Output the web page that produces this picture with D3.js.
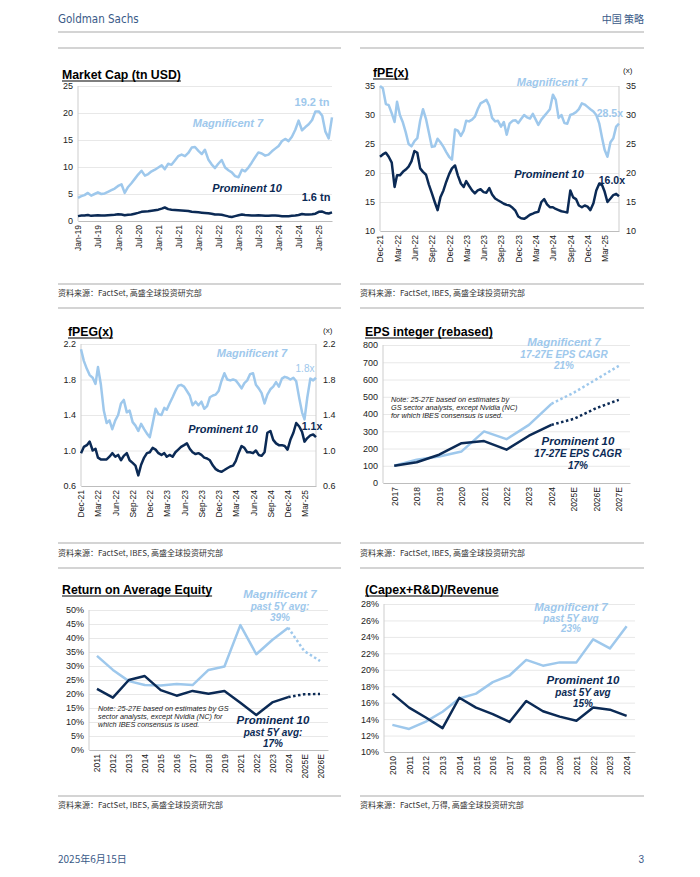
<!DOCTYPE html>
<meta charset="utf-8">
<title>Magnificent 7 vs Prominent 10</title>
<body>
<script src="https://cdn.jsdelivr.net/npm/d3@7"></script>
<style>
html, body {
    margin: 0;
    background: #fff;
}
svg {
    display: block;
    font-family: Arial, "Liberation Sans", sans-serif;
}
.cn {
    font-family: "Noto Sans CJK SC", sans-serif;
}
</style>
<script>
// ---- data ----
// market cap, tn USD, monthly Jan-19 .. May-25
var capMag7 = [4.3, 4.6, 4.8, 5.2, 4.7, 5.0, 5.3, 5.0, 5.1, 5.4, 5.7, 6.0,
    6.5, 6.8, 5.2, 6.3, 7.0, 7.8, 8.6, 9.3, 8.4, 8.7, 9.2, 9.5,
    9.9, 10.3, 9.6, 10.6, 10.4, 11.2, 12.0, 12.3, 12.0, 12.6, 13.6, 13.7,
    13.0, 12.4, 13.2, 11.4, 10.5, 9.8, 10.6, 11.3, 9.9, 9.4, 9.0, 8.3,
    8.1, 9.5, 9.2, 9.9, 10.8, 11.8, 12.7, 12.5, 12.1, 12.3, 12.9, 13.4,
    13.9, 14.8, 15.2, 14.8, 15.6, 16.9, 18.6, 16.8, 17.4, 17.9, 18.7, 20.3,
    20.3, 19.5, 16.6, 15.3, 19.2];
var capProm10 = [0.9, 1.0, 1.0, 1.1, 0.95, 1.0, 1.05, 1.0, 1.0, 1.05, 1.1, 1.15,
    1.25, 1.2, 1.05, 1.15, 1.2, 1.35, 1.5, 1.7, 1.75, 1.8, 1.9, 2.0,
    2.1, 2.3, 2.5, 2.2, 2.1, 2.05, 2.0, 1.95, 1.9, 1.85, 1.7, 1.65,
    1.6, 1.55, 1.5, 1.45, 1.35, 1.2, 1.2, 1.15, 1.0, 0.85, 0.75, 0.9,
    1.05, 1.2, 1.1, 1.05, 1.0, 1.0, 1.05, 1.0, 0.95, 0.95, 1.0, 1.0,
    0.95, 0.9, 0.9, 0.9, 0.95, 1.0, 1.1, 1.3, 1.2, 1.2, 1.25, 1.35,
    1.7, 1.75, 1.5, 1.4, 1.6];
var capTicks = ["Jan-19", "Jul-19", "Jan-20", "Jul-20", "Jan-21", "Jul-21", "Jan-22",
    "Jul-22", "Jan-23", "Jul-23", "Jan-24", "Jul-24", "Jan-25"];

// forward P/E, semi-monthly from 1 Dec 2021
var peMag7 = [35.0, 34.6, 31.9, 31.7, 30.3, 28.8, 32.3, 30.0, 28.7, 27.0,
    25.0, 24.6, 25.5, 26.0, 29.0, 31.0, 29.3, 27.0, 24.5, 24.6,
    25.9, 25.3, 24.5, 23.6, 22.8, 22.3, 27.5, 27.3, 26.4, 27.3,
    29.0, 28.9, 29.2, 29.7, 31.0, 32.0, 32.3, 32.6, 31.6, 29.5,
    28.9, 29.0, 28.0, 28.8, 26.6, 28.5, 29.0, 29.1, 28.6, 29.3,
    30.0, 29.6, 29.4, 30.2, 29.3, 28.3, 29.2, 29.8, 30.4, 31.0,
    33.5, 32.6, 29.5, 30.0, 28.6, 28.5, 30.0, 30.2, 30.5, 31.0,
    32.0, 31.8, 31.4, 31.0, 30.6, 30.0, 28.5, 26.0, 24.0, 22.8,
    25.3, 26.0, 28.0, 28.5];
var peProm10 = [22.8, 23.2, 23.5, 22.8, 21.8, 17.6, 19.6, 19.6, 20.2, 20.6,
    21.1, 22.0, 23.8, 23.5, 20.8, 20.2, 19.7, 18.0, 16.5, 15.0,
    13.6, 15.8, 17.0, 18.5, 19.8, 20.8, 21.3, 19.6, 18.2, 17.6,
    18.6, 17.8, 17.0, 16.5, 17.0, 17.2, 16.7, 16.6, 17.4, 16.3,
    15.6, 15.3, 15.0, 14.7, 14.5, 14.4, 14.0, 13.5, 12.5, 12.2,
    12.1, 12.4, 12.8, 13.0, 13.2, 13.3, 15.0, 15.5, 14.6, 14.1,
    14.1, 13.8, 13.6, 13.4, 13.3, 13.2, 17.0, 15.8, 15.5, 14.4,
    14.1, 14.4, 14.2, 13.6, 14.8, 17.0, 18.2, 17.9, 16.8, 15.0,
    15.6, 16.2, 16.4, 16.0];

// forward PEG, semi-monthly from 1 Dec 2021
var pegMag7 = [2.14, 2.01, 1.92, 1.85, 1.82, 1.75, 1.94, 1.75, 1.45, 1.31,
    1.34, 1.24, 1.34, 1.40, 1.53, 1.57, 1.43, 1.45, 1.32, 1.28,
    1.22, 1.30, 1.24, 1.19, 1.15, 1.30, 1.47, 1.41, 1.40, 1.48,
    1.46, 1.53, 1.60, 1.67, 1.73, 1.74, 1.72, 1.67, 1.62, 1.51,
    1.55, 1.51, 1.55, 1.47, 1.50, 1.60, 1.62, 1.63, 1.67, 1.78,
    1.87, 1.80, 1.79, 1.80, 1.79, 1.75, 1.70, 1.76, 1.79, 1.86,
    1.87, 1.74, 1.70, 1.65, 1.53, 1.63, 1.69, 1.72, 1.77, 1.72,
    1.81, 1.83, 1.82, 1.80, 1.82, 1.78, 1.59, 1.43, 1.35, 1.60,
    1.81, 1.79, 1.82];
var pegProm10 = [0.97, 1.04, 1.06, 1.10, 1.00, 1.02, 0.92, 0.90, 0.90, 0.90,
    0.93, 0.97, 0.93, 0.95, 0.89, 0.94, 0.97, 0.89, 0.86, 0.83,
    0.72, 0.84, 0.92, 0.97, 0.98, 1.03, 1.01, 0.97, 0.95, 0.97,
    0.93, 0.95, 0.93, 0.98, 1.01, 1.04, 1.06, 1.08, 1.02, 0.98,
    0.96, 0.97, 0.95, 0.92, 0.91, 0.89, 0.83, 0.79, 0.77, 0.76,
    0.78, 0.80, 0.82, 0.83, 0.88, 0.97, 1.05, 1.03, 0.98, 0.98,
    0.97, 1.00, 0.95, 0.94, 0.98, 1.20, 1.22, 1.12, 1.08, 1.06,
    1.06, 1.05, 1.01, 1.12, 1.20, 1.31, 1.27, 1.21, 1.10, 1.14,
    1.17, 1.18, 1.15];
var valTicks = ["Dec-21", "Mar-22", "Jun-22", "Sep-22", "Dec-22", "Mar-23", "Jun-23",
    "Sep-23", "Dec-23", "Mar-24", "Jun-24", "Sep-24", "Dec-24", "Mar-25"];

// EPS integer, rebased to 100 in 2017 (2025E-27E dotted)
var epsYears = ["2017", "2018", "2019", "2020", "2021", "2022", "2023", "2024", "2025E", "2026E", "2027E"];
var epsMag7 = [100, 135, 154, 183, 299, 254, 337, 459, 524, 601, 679];
var epsProm10 = [100, 120, 164, 231, 243, 193, 274, 337, 372, 434, 482];

// return on average equity, %
var roeYears = ["2011", "2012", "2013", "2014", "2015", "2016", "2017", "2018", "2019",
    "2021", "2022", "2023", "2024", "2025E", "2026E"];
var roeMag7 = [33.6, 28.6, 24.6, 23.2, 23.0, 23.6, 23.2, 28.6, 29.8, 44.6, 34.2, 39.3, 43.7, 35.4, 31.8];
var roeProm10 = [21.8, 18.7, 25.0, 26.4, 21.4, 19.4, 21.1, 20.1, 21.1, 16.9, 12.5, 17.0, 18.9, 19.9, 20.0];

// (capex + R&D) / revenue, %
var rdYears = ["2010", "2011", "2012", "2013", "2014", "2015", "2016", "2017", "2018",
    "2019", "2020", "2021", "2022", "2023", "2024"];
var rdMag7 = [13.3, 12.8, 13.7, 14.9, 16.5, 17.1, 18.5, 19.3, 21.2, 20.5, 20.9, 20.9, 23.7, 22.6, 25.3];
var rdProm10 = [17.1, 15.4, 14.2, 12.9, 16.6, 15.4, 14.6, 13.65, 16.2, 14.95, 14.3, 13.8, 15.4, 15.15, 14.4];

// ---- drawing ----
var navy = "#0b2a55",
    sky = "#9ec8ec",
    gsBlue = "#3a5a88",
    gridCol = "#e8e8e8",
    axisCol = "#cdcdcd",
    ruleCol = "#c6c6c6";

var svg = d3.select("body").append("svg")
    .attr("width", 700)
    .attr("height", 877);

var parseTick = d3.timeParse("%b-%y"),
    fmtTick = d3.timeFormat("%b-%y");

function monthly(i) { return d3.timeMonth.offset(new Date(2019, 0, 1), i); }
function semiMonthly(i) { return new Date(2021, 11 + Math.floor(i / 2), i % 2 ? 16 : 1); }

function rule(x1, x2, y) {
    svg.append("line")
        .attr("x1", x1).attr("x2", x2).attr("y1", y).attr("y2", y)
        .attr("stroke", ruleCol).attr("stroke-width", 1.5);
}

function title(x, y, str) {
    var t = svg.append("text")
        .attr("x", x).attr("y", y)
        .attr("font-size", 12.3).attr("font-weight", "bold")
        .attr("fill", "#000")
        .text(str);
    var w = t.node().getComputedTextLength();
    svg.append("line")
        .attr("x1", x).attr("x2", x + w).attr("y1", y + 2).attr("y2", y + 2)
        .attr("stroke", "#000").attr("stroke-width", 1.2);
}

function label(x, y, str, color, size, italic, anchor) {
    svg.append("text")
        .attr("x", x).attr("y", y)
        .attr("text-anchor", anchor || "middle")
        .attr("font-size", size)
        .attr("font-weight", "bold")
        .attr("font-style", italic ? "italic" : "normal")
        .attr("fill", color)
        .text(str);
}

function note(x, y, lines) {
    svg.append("text")
        .attr("font-size", 7.3).attr("font-style", "italic").attr("fill", "#222")
        .selectAll("tspan").data(lines).enter().append("tspan")
        .attr("x", x).attr("y", function(d, i) { return y + i * 8; })
        .text(function(d) { return d; });
}

function yAxes(y, x0, x1, ticks, fmt, right) {
    var g = svg.append("g")
        .attr("transform", "translate(" + x0 + ",0)")
        .call(d3.axisLeft(y).tickValues(ticks).tickFormat(fmt).tickSize(-(x1 - x0)).tickPadding(5));
    g.select(".domain").remove();
    g.selectAll(".tick line").attr("stroke", gridCol);
    g.selectAll(".tick text").attr("font-size", 9).attr("fill", "#222")
        .attr("font-family", "Arial, 'Liberation Sans', sans-serif");
    svg.append("line")
        .attr("x1", x0).attr("x2", x0).attr("y1", y.range()[0]).attr("y2", y.range()[1])
        .attr("stroke", axisCol);
    if (right) {
        var r = svg.append("g")
            .attr("transform", "translate(" + x1 + ",0)")
            .call(d3.axisRight(y).tickValues(ticks).tickFormat(fmt).tickSize(0).tickPadding(7));
        r.select(".domain").remove();
        r.selectAll(".tick text").attr("font-size", 9).attr("fill", "#222")
            .attr("font-family", "Arial, 'Liberation Sans', sans-serif");
        svg.append("line")
            .attr("x1", x1).attr("x2", x1).attr("y1", y.range()[0]).attr("y2", y.range()[1])
            .attr("stroke", axisCol);
    }
}

function xAxis(x, yb, ticks, fmt) {
    var g = svg.append("g")
        .attr("transform", "translate(0," + yb + ")")
        .call(d3.axisBottom(x).tickValues(ticks).tickFormat(fmt).tickSize(0));
    g.select(".domain").attr("stroke", "#bdbdbd");
    g.selectAll(".tick text")
        .attr("font-size", 8.5).attr("fill", "#222")
        .attr("font-family", "Arial, 'Liberation Sans', sans-serif")
        .attr("transform", "rotate(-90)")
        .attr("text-anchor", "end")
        .attr("x", -4).attr("y", 0).attr("dy", "0.35em");
}

function path(data, line, color, dash) {
    svg.append("path")
        .datum(data)
        .attr("fill", "none")
        .attr("stroke", color)
        .attr("stroke-width", 2.5)
        .attr("stroke-linejoin", "round")
        .attr("stroke-dasharray", dash || null)
        .attr("d", line);
}

// page furniture
svg.append("text")
    .attr("x", 58).attr("y", 23)
    .attr("font-family", "'Liberation Sans Narrow', 'DejaVu Sans Condensed', sans-serif")
    .attr("font-size", 11.5).attr("fill", gsBlue)
    .text("Goldman Sachs");
svg.append("text").attr("class", "cn")
    .attr("x", 644).attr("y", 23).attr("text-anchor", "end")
    .attr("font-size", 10).attr("fill", gsBlue)
    .text("中国 策略");
rule(58, 644, 32);
[48, 308, 568].forEach(function(y) { rule(58, 341, y); rule(360, 644, y); });
[284, 543, 796].forEach(function(y) { rule(58, 341, y); rule(360, 644, y); });

var sources = [
    [58, 296, "资料来源：FactSet, 高盛全球投资研究部"],
    [360, 296, "资料来源：FactSet, IBES, 高盛全球投资研究部"],
    [58, 556, "资料来源：FactSet, IBES, 高盛全球投资研究部"],
    [360, 556, "资料来源：FactSet, IBES, 高盛全球投资研究部"],
    [58, 808, "资料来源：FactSet, IBES, 高盛全球投资研究部"],
    [360, 808, "资料来源：FactSet, 万得, 高盛全球投资研究部"]
];
sources.forEach(function(s) {
    svg.append("text").attr("class", "cn")
        .attr("x", s[0]).attr("y", s[1])
        .attr("font-size", 8).attr("fill", "#333")
        .text(s[2]);
});
svg.append("text").attr("class", "cn")
    .attr("x", 58).attr("y", 863).attr("font-size", 10).attr("fill", gsBlue)
    .text("2025年6月15日");
svg.append("text")
    .attr("x", 644).attr("y", 863).attr("text-anchor", "end")
    .attr("font-size", 10).attr("fill", gsBlue)
    .text("3");

// 1. Market cap
(function() {
    var m7 = capMag7.map(function(v, i) { return { d: monthly(i), v: v }; }),
        p10 = capProm10.map(function(v, i) { return { d: monthly(i), v: v }; });
    var x = d3.scaleTime().domain([m7[0].d, m7[m7.length - 1].d]).range([78, 332]),
        y = d3.scaleLinear().domain([0, 25]).range([221, 86]);
    title(62, 79, "Market Cap (tn USD)");
    yAxes(y, 78, 332, d3.range(0, 26, 5), d3.format("d"));
    xAxis(x, 221, capTicks.map(parseTick), fmtTick);
    var line = d3.line().x(function(d) { return x(d.d); }).y(function(d) { return y(d.v); });
    path(m7, line, sky);
    path(p10, line, navy);
    label(312, 106, "19.2 tn", sky, 11, false);
    label(228, 127, "Magnificent 7", sky, 11, true);
    label(247, 192, "Prominent 10", navy, 11, true);
    label(316, 201, "1.6 tn", navy, 11, false);
})();

// 2. fPE
(function() {
    var m7 = peMag7.map(function(v, i) { return { d: semiMonthly(i), v: v }; }),
        p10 = peProm10.map(function(v, i) { return { d: semiMonthly(i), v: v }; });
    var x = d3.scaleTime().domain([m7[0].d, m7[m7.length - 1].d]).range([380, 619]),
        y = d3.scaleLinear().domain([10, 35]).range([231, 86]);
    title(373, 77, "fPE(x)");
    yAxes(y, 380, 619, d3.range(10, 36, 5), d3.format("d"), true);
    xAxis(x, 231, valTicks.map(parseTick), fmtTick);
    svg.append("text").attr("x", 623).attr("y", 73).attr("font-size", 8).attr("fill", "#222").text("(x)");
    var line = d3.line().x(function(d) { return x(d.d); }).y(function(d) { return y(d.v); });
    path(m7, line, sky);
    path(p10, line, navy);
    label(552, 86, "Magnificent 7", sky, 11, true);
    label(623, 117, "28.5x", sky, 10.5, false, "end");
    label(549, 178, "Prominent 10", navy, 11, true);
    label(625, 184, "16.0x", navy, 10.5, false, "end");
})();

// 3. fPEG
(function() {
    var m7 = pegMag7.map(function(v, i) { return { d: semiMonthly(i), v: v }; }),
        p10 = pegProm10.map(function(v, i) { return { d: semiMonthly(i), v: v }; });
    var x = d3.scaleTime().domain([m7[0].d, m7[m7.length - 1].d]).range([81, 316]),
        y = d3.scaleLinear().domain([0.6, 2.2]).range([486, 344]);
    title(68, 336, "fPEG(x)");
    yAxes(y, 81, 316, [0.6, 1.0, 1.4, 1.8, 2.2], d3.format(".1f"), true);
    xAxis(x, 486, valTicks.map(parseTick), fmtTick);
    svg.append("text").attr("x", 323).attr("y", 333).attr("font-size", 8).attr("fill", "#222").text("(x)");
    var line = d3.line().x(function(d) { return x(d.d); }).y(function(d) { return y(d.v); });
    path(m7, line, sky);
    path(p10, line, navy);
    label(252, 357, "Magnificent 7", sky, 11, true);
    svg.append("text").attr("x", 305).attr("y", 372).attr("text-anchor", "middle")
        .attr("font-size", 10).attr("fill", sky).text("1.8x");
    label(223, 433, "Prominent 10", navy, 11, true);
    label(312, 430, "1.1x", navy, 10.5, false);
})();

// 4. EPS integer
(function() {
    var x = d3.scalePoint().domain(epsYears).range([383, 630]).padding(0.5),
        y = d3.scaleLinear().domain([0, 800]).range([483, 345]);
    title(365, 336, "EPS integer (rebased)");
    yAxes(y, 383, 630, d3.range(0, 801, 100), d3.format("d"));
    xAxis(x, 483, epsYears, function(d) { return d; });
    var line = d3.line().x(function(d) { return x(d.k); }).y(function(d) { return y(d.v); });
    var m7 = epsYears.map(function(k, i) { return { k: k, v: epsMag7[i] }; }),
        p10 = epsYears.map(function(k, i) { return { k: k, v: epsProm10[i] }; });
    path(m7.slice(7), line, sky, "2.5,2.5");
    path(p10.slice(7), line, navy, "2.5,2.5");
    path(m7.slice(0, 8), line, sky);
    path(p10.slice(0, 8), line, navy);
    note(391, 402, ["Note: 25-27E based on estimates by",
        "GS sector analysts, except Nvidia (NC)",
        "for which IBES consensus is used."]);
    label(564, 346, "Magnificent 7", sky, 11.5, true);
    label(564, 358, "17-27E EPS CAGR", sky, 10, true);
    label(564, 369, "21%", sky, 10, true);
    label(578, 445, "Prominent 10", navy, 11.5, true);
    label(578, 457, "17-27E EPS CAGR", navy, 10, true);
    label(578, 469, "17%", navy, 10, true);
})();

// 5. Return on average equity
(function() {
    var x = d3.scalePoint().domain(roeYears).range([89, 328]).padding(0.5),
        y = d3.scaleLinear().domain([0, 50]).range([750, 610]);
    title(62, 594, "Return on Average Equity");
    yAxes(y, 89, 328, d3.range(0, 51, 5), function(d) { return d + "%"; });
    xAxis(x, 750, roeYears, function(d) { return d; });
    var line = d3.line().x(function(d) { return x(d.k); }).y(function(d) { return y(d.v); });
    var m7 = roeYears.map(function(k, i) { return { k: k, v: roeMag7[i] }; }),
        p10 = roeYears.map(function(k, i) { return { k: k, v: roeProm10[i] }; });
    path(m7.slice(12), line, sky, "2.5,2.5");
    path(p10.slice(12), line, navy, "2.5,2.5");
    path(m7.slice(0, 13), line, sky);
    path(p10.slice(0, 13), line, navy);
    note(98, 711, ["Note: 25-27E based on estimates by GS",
        "sector analysts, except Nvidia (NC) for",
        "which IBES consensus is used."]);
    label(280, 598, "Magnificent 7", sky, 11.5, true);
    label(280, 610, "past 5Y avg:", sky, 10, true);
    label(280, 621, "39%", sky, 10, true);
    label(273, 724, "Prominent 10", navy, 11.5, true);
    label(273, 736, "past 5Y avg:", navy, 10, true);
    label(273, 747, "17%", navy, 10, true);
})();

// 6. (Capex + R&D) / Revenue
(function() {
    var x = d3.scalePoint().domain(rdYears).range([384, 635]).padding(0.5),
        y = d3.scaleLinear().domain([10, 28]).range([752, 604]);
    title(365, 594, "(Capex+R&D)/Revenue");
    yAxes(y, 384, 635, d3.range(10, 29, 2), function(d) { return d + "%"; });
    xAxis(x, 752, rdYears, function(d) { return d; });
    var line = d3.line().x(function(d) { return x(d.k); }).y(function(d) { return y(d.v); });
    path(rdYears.map(function(k, i) { return { k: k, v: rdMag7[i] }; }), line, sky);
    path(rdYears.map(function(k, i) { return { k: k, v: rdProm10[i] }; }), line, navy);
    label(571, 611, "Magnificent 7", sky, 11.5, true);
    label(571, 622, "past 5Y avg", sky, 10, true);
    label(571, 632, "23%", sky, 10, true);
    label(583, 684, "Prominent 10", navy, 11.5, true);
    label(583, 696, "past 5Y avg", navy, 10, true);
    label(583, 707, "15%", navy, 10, true);
})();
</script>
